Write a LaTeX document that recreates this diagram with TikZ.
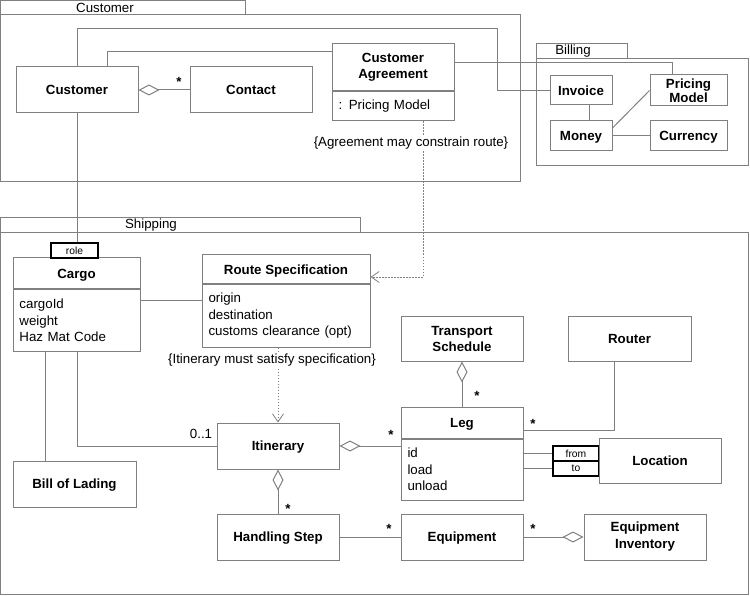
\documentclass[tikz,border=0pt]{standalone}
\usepackage{fontspec}
\setmainfont{Liberation Sans}
\usetikzlibrary{arrows.meta}
\definecolor{lc}{RGB}{128,128,128}
\newcommand\fsz{\fontsize{13.3}{16}\selectfont}
\begin{document}
\begin{tikzpicture}[x=1pt,y=-1pt,
  every node/.style={font=\fsz, text=black},
  pkg/.style={draw=lc, line width=1pt},
  pkgname/.style={font=\fsz},
  cls/.style={draw=lc, line width=1pt, fill=white, align=center, inner sep=2pt, font=\fsz\bfseries},
  one/.style={cls, text depth=0pt},
  attr/.style={draw=lc, line width=1pt, fill=white, align=left, inner xsep=6.5pt, inner ysep=2pt, anchor=north, font=\fontsize{13.3}{16.5}\selectfont},
  tagbox/.style={draw=black, line width=1.2pt, fill=white, inner sep=0pt, font=\fontsize{10.3}{12}\selectfont},
  conn/.style={draw=lc, line width=1pt},
  dep/.style={draw=lc, line width=0.7pt, dash pattern=on 1.5pt off 1.5pt, -{Straight Barb[length=8pt,width=11pt,line width=0.8pt]}},
  agg/.style={{Diamond[open,length=21pt,width=11pt,line width=1pt]}-},
  aggend/.style={-{Diamond[open,length=21pt,width=11pt,line width=1pt]}},
  note/.style={fill=white, inner sep=1pt, font=\fsz},
  mult/.style={anchor=base, yshift=-5.5pt, inner sep=0pt, font=\fsz\bfseries},
]
\useasboundingbox (0,0) rectangle (750,596);

% ---------- packages ----------
\draw[pkg] (0.5,0.5) rectangle (245,15);
\draw[pkg] (0.5,15) rectangle (520,182);
\node[pkgname] (pkgcust) at (105,7.5) {Customer};

\draw[pkg] (536,44) rectangle (627,59);
\draw[pkg] (536,59) rectangle (748.5,166);
\node[pkgname] (pkgbill) at (573,51.5) {Billing};

\draw[pkg] (0.5,218) rectangle (360,233);
\draw[pkg] (0.5,233) rectangle (748.5,594);
\node[pkgname] (pkgship) at (151,225.5) {Shipping};

% ---------- Customer package ----------
\node[one, minimum width=122, minimum height=46] (customer) at (77,90) {Customer};
\node[one, minimum width=122, minimum height=46] (contact) at (251,90) {Contact};
\node[cls, minimum width=122, minimum height=47] (agree) at (393,67.5) {Customer\\Agreement};
\node[attr, minimum width=122, minimum height=29, text width=109] (agreeattr) at (agree.south) {: Pricing Model};

% ---------- Billing package ----------
\node[one, minimum width=62, minimum height=29] (invoice) at (581,90.5) {Invoice};
\node[one, minimum width=62, minimum height=30] (money) at (581,136) {Money};
\node[cls, minimum width=77, minimum height=31, font=\fontsize{13.3}{14}\selectfont\bfseries] (pricing) at (688.5,90.5) {Pricing\\Model};
\node[one, minimum width=77, minimum height=30] (currency) at (688.5,136) {Currency};

% ---------- Shipping package ----------
\node[one, minimum width=127, minimum height=31] (cargo) at (76.5,273.5) {Cargo};
\node[attr, minimum width=127, minimum height=61, text width=114] (cargoattr) at (cargo.south) {cargoId\\weight\\Haz Mat Code};
\node[tagbox, minimum width=47, minimum height=15] (role) at (74.5,250.5) {role};

\node[one, minimum width=168, minimum height=29] (rspec) at (286,269.5) {Route Specification};
\node[attr, minimum width=168, minimum height=62, text width=155] (rattr) at (rspec.south) {origin\\destination\\customs clearance (opt)};

\node[one, minimum width=123, minimum height=46] (bol) at (74.5,484) {Bill of Lading};
\node[one, minimum width=122, minimum height=46] (itin) at (278,446) {Itinerary};
\node[one, minimum width=122, minimum height=46] (hand) at (278,537) {Handling Step};

\node[cls, minimum width=122, minimum height=45] (ts) at (462,338.5) {Transport\\Schedule};
\node[one, minimum width=123, minimum height=45] (router) at (629.5,338.5) {Router};

\node[one, minimum width=122, minimum height=31] (leg) at (462,422.5) {Leg};
\node[attr, minimum width=122, minimum height=61, text width=109] (legattr) at (leg.south) {id\\load\\unload};

\node[tagbox, minimum width=46, minimum height=15] (from) at (576,453.5) {from};
\node[tagbox, minimum width=46, minimum height=15] (to) at (576,468.5) {to};
\node[one, minimum width=122, minimum height=45] (location) at (660,460.5) {Location};

\node[one, minimum width=122, minimum height=46] (equip) at (462,537) {Equipment};
\node[cls, minimum width=122, minimum height=46, font=\fontsize{13.3}{17}\selectfont\bfseries] (einv) at (645,537) {Equipment\\Inventory};

% ---------- connectors: Customer / Billing ----------
\draw[conn, agg] (customer.east) -- (contact.west);
\node[mult] (m1) at (179,81) {*};
\draw[conn] (customer.north) |- (497,29) |- (invoice.west);
\draw[conn] ([xshift=30pt]customer.north) |- (agree.west |- 0,52);
\draw[conn] (agree.east |- 0,63) -| ([xshift=-16.5pt]pricing.north);
\draw[conn] (invoice.south -| 589,0) -- (money.north -| 589,0);
\draw[conn] (money.east |- 0,128) -- (pricing.west);
\draw[conn] (money.east) -- (currency.west);

% constraint 1
\draw[dep] (agreeattr.south -| 423,0) |- (rspec.east |- 0,277);
\node[note] (note1) at (411,143) {\{Agreement may constrain route\}};

% ---------- connectors: Shipping ----------
\draw[conn] (customer.south) -- (role.north -| customer.south);
\draw[conn] (cargoattr.east |- 0,300) -- (rattr.west |- 0,300);
\draw[conn] (cargoattr.south -| 45,0) -- (bol.north -| 45,0);
\draw[conn] (cargoattr.south -| 77,0) |- (itin.west);
\node (m01) at (201,434) {0..1};

\draw[dep] (rattr.south -| itin.north) -- (itin.north);
\node[note] (note2) at (272,360) {\{Itinerary must satisfy specification\}};

\draw[conn, agg] (itin.east) -- (legattr.west |- itin.east);
\node[mult] (m2) at (391,434) {*};
\draw[conn, agg] (itin.south) -- (hand.north);
\node[mult] (m3) at (288,508) {*};
\draw[conn, agg] (ts.south) -- (leg.north);
\node[mult] (m4) at (477,395) {*};
\draw[conn] (router.south -| 614,0) |- (leg.east |- 0,430);
\node[mult] (m5) at (533,423) {*};
\draw[conn] (legattr.east |- from.west) -- (from.west);
\draw[conn] (legattr.east |- to.west) -- (to.west);

\draw[conn] (hand.east) -- (equip.west);
\node[mult] (m6) at (389,528) {*};
\draw[conn, aggend] (equip.east) -- (einv.west);
\node[mult] (m7) at (533,528) {*};
\end{tikzpicture}
\end{document}
